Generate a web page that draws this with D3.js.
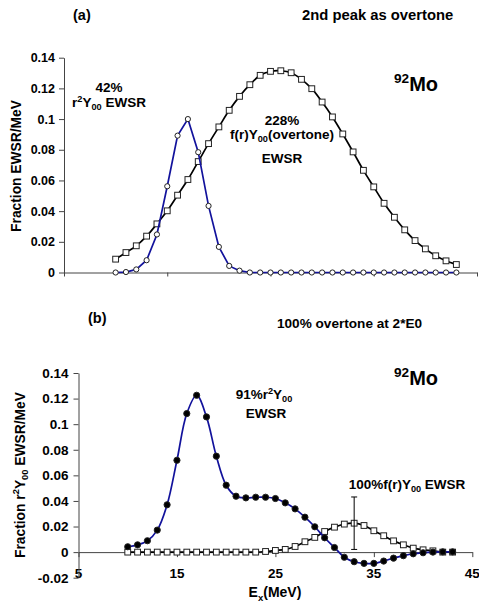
<!DOCTYPE html>
<html>
<head>
<meta charset="utf-8">
<script src="https://cdn.jsdelivr.net/npm/d3@7.9.0/dist/d3.min.js"></script>
<style>
  body { margin: 0; background: #fff; }
  svg { display: block; font-family: Arial, "Liberation Sans", sans-serif; font-weight: bold; }
</style>
</head>
<body>
<div id="chart"></div>
<script>
// excitation energies (MeV), shared by every series
const energies = [10, 11, 12, 13, 14, 15, 16, 17, 18, 19, 20, 21, 22, 23, 24, 25, 26,
                  27, 28, 29, 30, 31, 32, 33, 34, 35, 36, 37, 38, 39, 40, 41, 42, 43];

// panel (a): r^2 Y00 strength (open circles, blue) and overtone strength (squares, black)
const aMonopole = [0, 0.0003, 0.002, 0.008, 0.0248, 0.0562, 0.0892, 0.1, 0.0784, 0.0434,
                   0.0167, 0.0043, 0.0012, 0, 0, 0, 0, 0, 0, 0, 0, 0, 0, 0, 0, 0, 0,
                   0, 0, 0, 0, 0, 0, 0];
const aOvertone = [0.0087, 0.013, 0.0174, 0.0237, 0.0317, 0.0402, 0.0504, 0.0606, 0.0723,
                   0.084, 0.0949, 0.1057, 0.1148, 0.1224, 0.1285, 0.1311, 0.1315, 0.1302,
                   0.1259, 0.1198, 0.1111, 0.1014, 0.0903, 0.0786, 0.0666, 0.0558, 0.0451,
                   0.036, 0.0278, 0.0208, 0.0154, 0.0109, 0.0076, 0.0052];

// panel (b)
const bMonopole = [0.0042, 0.0057, 0.0089, 0.0172, 0.037, 0.0718, 0.1083, 0.1226, 0.1057,
                   0.075, 0.0523, 0.0437, 0.0424, 0.0429, 0.0429, 0.0419, 0.0385, 0.0338,
                   0.0273, 0.0198, 0.0112, 0.0036, -0.004, -0.0075, -0.0088, -0.0088,
                   -0.007, -0.0047, -0.0028, -0.0013, -0.0005, 0, 0.0002, 0.0002];
const bOvertone = [0, 0, 0, 0, 0, 0, 0, 0, 0, 0, 0, 0, 0, 0, 0.0005, 0.0013, 0.0021, 0.0044,
                   0.0081, 0.0115, 0.0161, 0.0195, 0.0219, 0.0226, 0.0208, 0.0167, 0.0128,
                   0.0088, 0.0057, 0.0031, 0.0018, 0.001, 0, 0];
const errorBar = { e: 33, value: 0.0226, err: 0.0205 };

const xTicks = [5, 15, 25, 35, 45];
const yTicksA = [0, 0.02, 0.04, 0.06, 0.08, 0.1, 0.12, 0.14];
const yTicksB = [-0.02, 0, 0.02, 0.04, 0.06, 0.08, 0.1, 0.12, 0.14];

const width = 479;
const height = 603;
const blue = "#12129c";

const svg = d3.select("#chart").append("svg")
    .attr("width", width)
    .attr("height", height);

// text with super/subscripts: parts = [[string, null|'sup'|'sub'], ...]
function richText(sel, x, y, parts, size, anchor) {
    const t = sel.append("text")
        .attr("x", x).attr("y", y)
        .attr("font-size", size)
        .attr("text-anchor", anchor || "middle");
    let shift = 0;
    parts.forEach(([s, kind]) => {
        const target = kind === "sup" ? -0.4 * size : kind === "sub" ? 0.25 * size : 0;
        t.append("tspan")
            .attr("dy", target - shift)
            .attr("font-size", kind ? size * 0.68 : size)
            .text(s);
        shift = target;
    });
    return t;
}

function toPoints(values) {
    return energies.map((e, i) => ({ e: e, v: values[i] }));
}

function drawSeries(g, x, y, values, opts) {
    const pts = toPoints(values);
    const line = d3.line()
        .x(d => x(d.e))
        .y(d => y(d.v))
        .curve(opts.smooth ? d3.curveCatmullRom.alpha(0.5) : d3.curveLinear);
    g.append("path")
        .datum(pts)
        .attr("fill", "none")
        .attr("stroke", opts.color)
        .attr("stroke-width", 1.7)
        .attr("d", line);
    if (opts.marker === "square") {
        g.selectAll(null).data(pts).join("rect")
            .attr("x", d => x(d.e) - 2.9)
            .attr("y", d => y(d.v) - 2.9)
            .attr("width", 5.8).attr("height", 5.8)
            .attr("fill", "#fff")
            .attr("stroke", "#222")
            .attr("stroke-width", 1);
    } else {
        g.selectAll(null).data(pts).join("circle")
            .attr("cx", d => x(d.e))
            .attr("cy", d => y(d.v))
            .attr("r", opts.marker === "dot" ? 3.1 : 2.6)
            .attr("fill", opts.marker === "dot" ? "#000" : "#fff")
            .attr("stroke", "#222")
            .attr("stroke-width", 1);
    }
}

function styleAxis(g, size) {
    g.select(".domain").attr("stroke", "#444");
    g.selectAll(".tick line").attr("stroke", "#444");
    g.selectAll(".tick text")
        .attr("font-family", "Arial, 'Liberation Sans', sans-serif")
        .attr("font-weight", "bold")
        .attr("font-size", size)
        .attr("fill", "#000");
}

/* ---------- panel (a) ---------- */
const xA = d3.scaleLinear().domain([5, 45]).range([64, 477]);
const yA = d3.scaleLinear().domain([0, 0.14]).range([272.5, 57.7]);
const gA = svg.append("g");

gA.append("g")
    .attr("transform", `translate(0,${yA(0)})`)
    .call(d3.axisBottom(xA).tickValues(xTicks).tickFormat("").tickSize(4).tickSizeOuter(0))
    .call(g => styleAxis(g, 12));
gA.append("g")
    .attr("transform", `translate(${xA(5)},0)`)
    .call(d3.axisLeft(yA).tickValues(yTicksA).tickFormat(d => d === 0 ? "0" : String(d))
        .tickSize(5).tickSizeOuter(0).tickPadding(4))
    .call(g => styleAxis(g, 12.5));

drawSeries(gA, xA, yA, aOvertone, { color: "#000", marker: "square", smooth: true });
drawSeries(gA, xA, yA, aMonopole, { color: blue, marker: "circle", smooth: false });

gA.append("text").attr("x", 73).attr("y", 20).attr("font-size", 14.5).text("(a)");
gA.append("text").attr("x", 302).attr("y", 20).attr("font-size", 14.8).text("2nd peak as overtone");
richText(gA, 21, 166, [["Fraction EWSR/MeV", null]], 13.8)
    .attr("transform", "rotate(-90,21,166)");
gA.append("text").attr("x", 109).attr("y", 92).attr("font-size", 13.5)
    .attr("text-anchor", "middle").text("42%");
richText(gA, 109, 107, [["r", null], ["2", "sup"], ["Y", null], ["00", "sub"], [" EWSR", null]], 13.5);
gA.append("text").attr("x", 282).attr("y", 125).attr("font-size", 13.5)
    .attr("text-anchor", "middle").text("228%");
richText(gA, 282, 139, [["f(r)Y", null], ["00", "sub"], ["(overtone)", null]], 13.5);
gA.append("text").attr("x", 282).attr("y", 163).attr("font-size", 13.5)
    .attr("text-anchor", "middle").text("EWSR");
richText(gA, 394, 91, [["92", "sup"], ["Mo", null]], 20, "start");

/* ---------- panel (b) ---------- */
const xB = d3.scaleLinear().domain([5, 45]).range([78.5, 472.3]);
const yB = d3.scaleLinear().domain([-0.02, 0.14]).range([577.7, 373]);
const gB = svg.append("g");

gB.append("g")
    .attr("transform", `translate(0,${yB(0)})`)
    .call(d3.axisBottom(xB).tickValues(xTicks).tickFormat("").tickSize(5).tickSizeOuter(0))
    .call(g => styleAxis(g, 13.5));
// tick labels sit below the plot, at the low end of the y axis
gB.append("g").selectAll("text").data(xTicks).join("text")
    .attr("x", d => xB(d))
    .attr("y", 578)
    .attr("font-size", 13.5)
    .attr("text-anchor", "middle")
    .text(d => d);
gB.append("g")
    .attr("transform", `translate(${xB(5)},0)`)
    .call(d3.axisLeft(yB).tickValues(yTicksB).tickFormat(d => d === 0 ? "0" : String(d))
        .tickSize(5).tickSizeOuter(0).tickPadding(5))
    .call(g => styleAxis(g, 13.5));

drawSeries(gB, xB, yB, bOvertone, { color: "#000", marker: "square", smooth: true });
drawSeries(gB, xB, yB, bMonopole, { color: blue, marker: "dot", smooth: true });

// error bar on the overtone peak
const ebx = xB(errorBar.e);
gB.append("path")
    .attr("d", `M${ebx},${yB(errorBar.value - errorBar.err)}V${yB(errorBar.value + errorBar.err)}` +
        `M${ebx - 3},${yB(errorBar.value - errorBar.err)}H${ebx + 3}` +
        `M${ebx - 3},${yB(errorBar.value + errorBar.err)}H${ebx + 3}`)
    .attr("stroke", "#000")
    .attr("stroke-width", 1)
    .attr("fill", "none");

gB.append("text").attr("x", 88).attr("y", 323).attr("font-size", 14.5).text("(b)");
gB.append("text").attr("x", 277).attr("y", 328).attr("font-size", 13.6).text("100% overtone at 2*E0");
richText(gB, 25, 475, [["Fraction r", null], ["2", "sup"], ["Y", null], ["00", "sub"], [" EWSR/MeV", null]], 13.8)
    .attr("transform", "rotate(-90,25,475)");
richText(gB, 394, 385, [["92", "sup"], ["Mo", null]], 20, "start");
richText(gB, 264, 399, [["91%r", null], ["2", "sup"], ["Y", null], ["00", "sub"]], 13.5);
gB.append("text").attr("x", 266).attr("y", 418).attr("font-size", 13.5)
    .attr("text-anchor", "middle").text("EWSR");
richText(gB, 407, 489, [["100%f(r)Y", null], ["00", "sub"], [" EWSR", null]], 13.5);
richText(gB, 275, 597, [["E", null], ["x", "sub"], ["(MeV)", null]], 14);
</script>
</body>
</html>
